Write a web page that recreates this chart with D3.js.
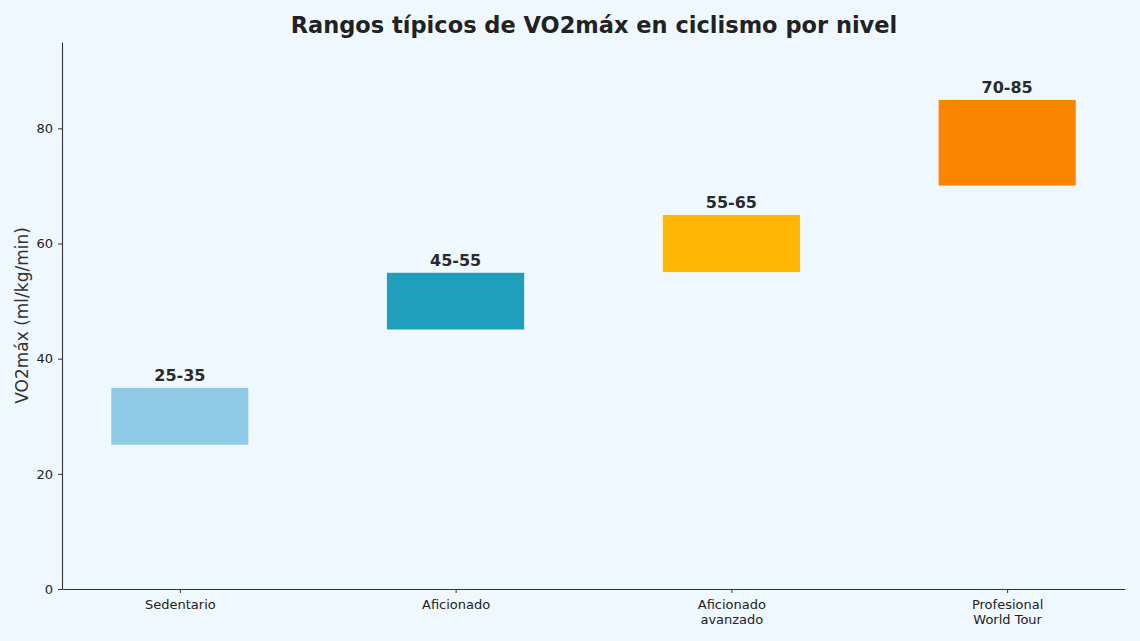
<!DOCTYPE html>
<html>
<head>
<meta charset="utf-8">
<script src="https://cdn.jsdelivr.net/npm/d3@7"></script>
<style>
  body { margin: 0; background: #f0f8ff; }
  svg { display: block; font-family: "DejaVu Sans", sans-serif; }
</style>
</head>
<body>
<div id="chart"></div>
<script>
const categories = ["Sedentario", "Aficionado", "Aficionado\navanzado", "Profesional\nWorld Tour"];
const lowValues = [25, 45, 55, 70];
const highValues = [35, 55, 65, 85];
const rangeLabels = ["25-35", "45-55", "55-65", "70-85"];
const barColors = ["#8ecae6", "#219ebc", "#ffb703", "#fb8500"];
const yTicks = [0, 20, 40, 60, 80];

const width = 1140, height = 641;
const svg = d3.select("#chart")
  .append("svg")
  .attr("width", width)
  .attr("height", height);

svg.append("rect")
  .attr("width", width)
  .attr("height", height)
  .attr("fill", "#f0f8ff");

// x as positions 0..3 with matplotlib-like margins
const xScale = d3.scaleLinear()
  .domain([-0.4275, 3.4275])
  .range([62, 1125]);

const yScale = d3.scaleLinear()
  .domain([0, 95])
  .range([589, 42]);

const barWidth = xScale(0.5) - xScale(0);

// bars
svg.selectAll(".bar")
  .data(categories)
  .enter()
  .append("rect")
  .attr("class", "bar")
  .attr("x", (d, i) => xScale(i) - barWidth / 2)
  .attr("y", (d, i) => yScale(highValues[i]))
  .attr("width", barWidth)
  .attr("height", (d, i) => yScale(lowValues[i]) - yScale(highValues[i]))
  .attr("fill", (d, i) => barColors[i])
  .attr("stroke", "#ffffff")
  .attr("stroke-width", 0.6);

// range labels
svg.selectAll(".range-label")
  .data(rangeLabels)
  .enter()
  .append("text")
  .attr("class", "range-label")
  .attr("x", (d, i) => xScale(i))
  .attr("y", (d, i) => yScale(highValues[i]) - 6.5)
  .attr("text-anchor", "middle")
  .attr("font-size", "16px")
  .attr("font-weight", "bold")
  .attr("fill", "#2a2a2a")
  .text(d => d);

// y axis
const yAxis = svg.append("g")
  .attr("transform", "translate(62,0)")
  .call(d3.axisLeft(yScale).tickValues(yTicks).tickSize(4).tickPadding(5).tickSizeOuter(0));

// x axis
const xAxis = svg.append("g")
  .attr("transform", "translate(0,589)")
  .call(d3.axisBottom(xScale).tickValues(d3.range(categories.length)).tickSize(4).tickPadding(5).tickSizeOuter(0).tickFormat(() => ""));

[yAxis, xAxis].forEach(ax => {
  ax.select(".domain").attr("stroke", "#333333").attr("stroke-width", 1.1);
  ax.selectAll(".tick line").attr("stroke", "#333333").attr("stroke-width", 1);
  ax.selectAll(".tick text")
    .attr("font-size", "13px")
    .attr("fill", "#222222")
    .attr("font-family", "DejaVu Sans, sans-serif");
});

// multi-line category labels
xAxis.selectAll(".tick").each(function (d, i) {
  const lines = categories[i].split("\n");
  const t = d3.select(this).select("text").text(null).attr("y", 0).attr("dy", null);
  lines.forEach((line, j) => {
    t.append("tspan")
      .attr("x", 0)
      .attr("y", 20 + j * 15)
      .text(line);
  });
});

// y label
svg.append("text")
  .attr("transform", "translate(28," + yScale(47.5) + ") rotate(-90)")
  .attr("text-anchor", "middle")
  .attr("font-size", "17px")
  .attr("fill", "#333333")
  .text("VO2máx (ml/kg/min)");

// title
svg.append("text")
  .attr("x", 594)
  .attr("y", 33)
  .attr("text-anchor", "middle")
  .attr("font-size", "22.5px")
  .attr("font-weight", "bold")
  .attr("fill", "#222222")
  .text("Rangos típicos de VO2máx en ciclismo por nivel");
</script>
</body>
</html>
